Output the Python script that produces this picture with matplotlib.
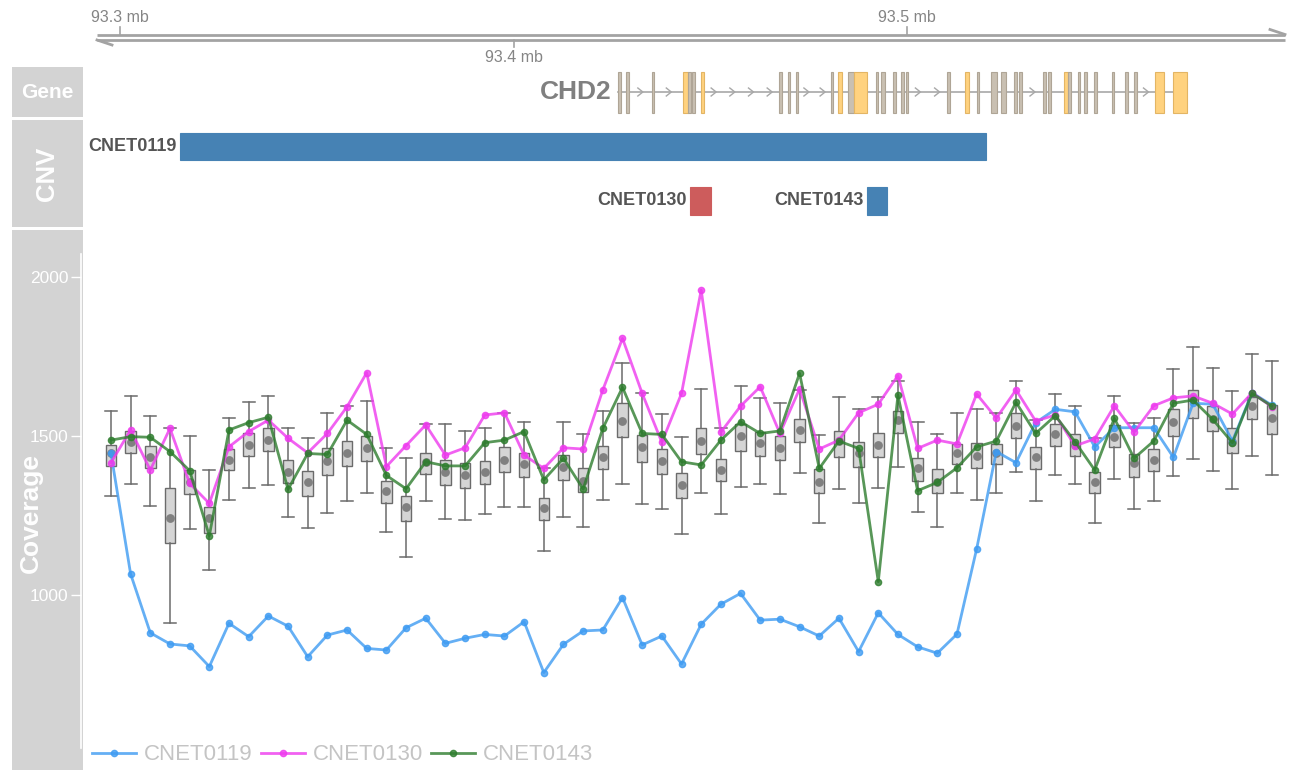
import numpy as np
import matplotlib
matplotlib.use("Agg")
import matplotlib.pyplot as plt
from matplotlib.patches import Rectangle

plt.rcParams['font.family'] = ['Liberation Sans', 'DejaVu Sans']

# ---------------- data ----------------
axis_ticks_mb = [93.3, 93.4, 93.5]
axis_tick_labels = ["93.3 mb", "93.4 mb", "93.5 mb"]

gene_name = "CHD2"
exon_start = [93.42663, 93.42851, 93.43512, 93.44315, 93.44427, 93.44544, 93.44765,
              93.46747, 93.46968, 93.47172, 93.48061, 93.48254, 93.48508, 93.48661,
              93.49204, 93.49339, 93.49652, 93.49860, 93.49975, 93.51009, 93.51474,
              93.51771, 93.52135, 93.52389, 93.52727, 93.52846, 93.53464, 93.53591,
              93.53990, 93.54099, 93.54338, 93.54506, 93.54760, 93.55202, 93.55540,
              93.55776, 93.56302, 93.56752]
exon_end = [93.42724, 93.42935, 93.43578, 93.44427, 93.44511, 93.44612, 93.44849,
            93.46816, 93.47034, 93.47238, 93.48127, 93.48341, 93.48661, 93.48976,
            93.49271, 93.49433, 93.49720, 93.49931, 93.50033, 93.51093, 93.51576,
            93.51830, 93.52280, 93.52508, 93.52795, 93.52915, 93.53525, 93.53652,
            93.54099, 93.54168, 93.54404, 93.54574, 93.54828, 93.55268, 93.55609,
            93.55845, 93.56539, 93.57123]
exon_kind = ["n", "n", "n", "c", "n", "n", "c",
             "n", "n", "n", "n", "c", "n", "c",
             "n", "n", "n", "n", "n", "n", "c",
             "n", "n", "n", "n", "n", "n", "n",
             "c", "n", "n", "n", "n", "n", "n",
             "n", "c", "c"]

cnv_names = ["CNET0119", "CNET0130", "CNET0143"]
cnv_start = [93.31525, 93.44485, 93.48983]
cnv_end = [93.52008, 93.45019, 93.49492]
cnv_row = [0, 1, 1]
cnv_colors = ["#4682B4", "#CD5C5C", "#4682B4"]

bin_mb = [round(93.2977 + 0.005 * i, 4) for i in range(60)]

box_q1 = [1406, 1446, 1398, 1163, 1317, 1196, 1393, 1438, 1454, 1351,
          1312, 1377, 1407, 1421, 1288, 1233, 1380, 1346, 1337, 1348,
          1388, 1372, 1236, 1362, 1323, 1395, 1498, 1417, 1381, 1306,
          1442, 1359, 1454, 1437, 1425, 1482, 1322, 1433, 1404, 1433,
          1510, 1358, 1320, 1411, 1400, 1411, 1493, 1395, 1469, 1437,
          1320, 1464, 1372, 1390, 1501, 1556, 1516, 1446, 1553, 1505]
box_med = [1446, 1482, 1435, 1241, 1354, 1241, 1425, 1472, 1487, 1388,
           1354, 1422, 1448, 1461, 1328, 1278, 1417, 1386, 1377, 1386,
           1425, 1412, 1275, 1404, 1358, 1433, 1548, 1464, 1421, 1346,
           1485, 1393, 1501, 1477, 1463, 1519, 1356, 1485, 1446, 1472,
           1550, 1400, 1356, 1446, 1437, 1446, 1532, 1433, 1505, 1472,
           1354, 1498, 1414, 1425, 1545, 1615, 1553, 1482, 1595, 1558]
box_q3 = [1472, 1516, 1469, 1337, 1393, 1278, 1458, 1508, 1524, 1425,
          1390, 1461, 1485, 1500, 1359, 1312, 1446, 1425, 1416, 1421,
          1466, 1446, 1304, 1440, 1398, 1469, 1603, 1503, 1458, 1385,
          1526, 1428, 1537, 1514, 1501, 1553, 1395, 1517, 1482, 1511,
          1580, 1432, 1395, 1475, 1477, 1475, 1571, 1466, 1537, 1505,
          1386, 1535, 1442, 1458, 1585, 1645, 1595, 1524, 1624, 1597]
whisk_lo = [1311, 1348, 1281, 913, 1208, 1079, 1299, 1337, 1346, 1244,
            1212, 1259, 1296, 1320, 1198, 1119, 1296, 1238, 1236, 1254,
            1276, 1278, 1138, 1246, 1215, 1299, 1348, 1285, 1269, 1191,
            1322, 1254, 1339, 1348, 1318, 1383, 1227, 1332, 1288, 1336,
            1404, 1260, 1215, 1320, 1299, 1320, 1386, 1297, 1377, 1348,
            1225, 1365, 1270, 1296, 1375, 1427, 1390, 1332, 1437, 1377]
whisk_hi = [1579, 1627, 1563, 1525, 1500, 1393, 1556, 1606, 1627, 1526,
            1493, 1573, 1595, 1610, 1463, 1430, 1537, 1538, 1517, 1524,
            1573, 1545, 1398, 1545, 1505, 1579, 1731, 1634, 1569, 1498,
            1648, 1526, 1658, 1618, 1603, 1645, 1503, 1622, 1585, 1622,
            1674, 1545, 1505, 1571, 1584, 1573, 1674, 1550, 1631, 1595,
            1495, 1626, 1542, 1558, 1711, 1779, 1715, 1642, 1757, 1736]

cov_0119 = [1446, 1066, 881, 846, 840, 775, 911, 869, 934, 902,
            806, 874, 890, 832, 827, 897, 927, 848, 864, 876,
            871, 916, 756, 845, 887, 890, 992, 843, 871, 783,
            908, 971, 1005, 921, 924, 900, 871, 927, 822, 944,
            876, 837, 817, 877, 1145, 1451, 1416, 1542, 1584, 1576,
            1466, 1526, 1526, 1526, 1433, 1603, 1600, 1484, 1636, 1597]
cov_0130 = [1416, 1519, 1393, 1524, 1351, 1288, 1466, 1514, 1550, 1493,
            1447, 1508, 1592, 1699, 1404, 1470, 1535, 1440, 1463, 1566,
            1573, 1440, 1398, 1463, 1459, 1645, 1807, 1634, 1480, 1634,
            1959, 1512, 1594, 1655, 1508, 1648, 1459, 1487, 1573, 1600,
            1690, 1461, 1487, 1475, 1632, 1556, 1645, 1547, 1566, 1469,
            1491, 1595, 1512, 1595, 1620, 1626, 1603, 1569, 1636, 1592]
cov_0143 = [1487, 1498, 1496, 1451, 1391, 1186, 1519, 1542, 1559, 1332,
            1445, 1442, 1550, 1505, 1376, 1334, 1419, 1406, 1406, 1479,
            1487, 1514, 1362, 1430, 1333, 1524, 1653, 1508, 1505, 1419,
            1409, 1487, 1545, 1508, 1516, 1697, 1398, 1484, 1461, 1042,
            1629, 1328, 1354, 1400, 1466, 1484, 1606, 1508, 1564, 1482,
            1393, 1556, 1430, 1484, 1603, 1613, 1552, 1479, 1634, 1594]
sample_names = ["CNET0119", "CNET0130", "CNET0143"]
yticks = [1000, 1500, 2000]

# ---------------- layout ----------------
W, H = 1290, 770
fig = plt.figure(figsize=(W / 100, H / 100), dpi=100)
PX_PER_MB = 3935.0


def px2mb(px):
    return 93.3 + (px - 120) / PX_PER_MB


def add_ax(x0, y0, x1, y1, **kw):
    ax = fig.add_axes([x0 / W, 1 - y1 / H, (x1 - x0) / W, (y1 - y0) / H], **kw)
    return ax


def clean(ax):
    for s in ax.spines.values():
        s.set_visible(False)
    ax.set_xticks([])
    ax.set_yticks([])


STRIP = "#D3D3D3"

# ---------- strips ----------
for (y0, y1, label, rot, fs, cy) in [(67, 117, "Gene", 0, 15, None),
                                     (120, 227, "CNV", 90, 18.5, None),
                                     (230, 770, "Coverage", 90, 19, 513)]:
    sax = add_ax(12, y0, 83, y1)
    sax.set_facecolor(STRIP)
    clean(sax)
    if label == "Coverage":
        fig.text(31 / W, 1 - cy / H, label, rotation=90, ha="center", va="center",
                 color="white", fontsize=fs, fontweight="bold")
    else:
        fig.text(47 / W, 1 - (y0 + y1) / 2 / H, label, rotation=rot, ha="center",
                 va="center", color="white", fontsize=fs, fontweight="bold")

# ---------- genome axis ----------
axg = add_ax(83, 0, 1290, 64)
axg.set_xlim(px2mb(83), px2mb(1290))
axg.set_ylim(64, 0)
clean(axg)
axg.patch.set_alpha(0)
ax_col = "#A3A3A3"
x_l, x_r = px2mb(97), px2mb(1285)
barb = 15 / PX_PER_MB
axg.plot([x_l, x_r], [34.5, 34.5], color=ax_col, lw=2, solid_capstyle="butt")
axg.plot([x_l, x_r], [40, 40], color=ax_col, lw=2, solid_capstyle="butt")
axg.plot([x_l, x_l + barb], [40, 45], color=ax_col, lw=2)
axg.plot([x_r, x_r - barb], [34.5, 29.5], color=ax_col, lw=2)
for i, (t, lab) in enumerate(zip(axis_ticks_mb, axis_tick_labels)):
    if i % 2 == 0:
        axg.plot([t, t], [34.5, 27], color=ax_col, lw=1.2)
        axg.text(t, 17, lab, ha="center", va="center", fontsize=11.5, color="#858585")
    else:
        axg.plot([t, t], [40, 47], color=ax_col, lw=1.2)
        axg.text(t, 57, lab, ha="center", va="center", fontsize=11.5, color="#858585")

# ---------- gene track ----------
axe = add_ax(83, 67, 1290, 117)
axe.set_xlim(px2mb(83), px2mb(1290))
axe.set_ylim(0, 1)
clean(axe)
axe.patch.set_alpha(0)
gstart, gend = min(exon_start), max(exon_end)
axe.plot([gstart, gend], [0.5, 0.5], color="#A8A8A8", lw=1.2, zorder=1)
# chevrons in introns
order = np.argsort(exon_start)
segs = []
cur_s, cur_e = exon_start[order[0]], exon_end[order[0]]
for k in order[1:]:
    if exon_start[k] <= cur_e + 1e-6:
        cur_e = max(cur_e, exon_end[k])
    else:
        segs.append((cur_s, cur_e))
        cur_s, cur_e = exon_start[k], exon_end[k]
segs.append((cur_s, cur_e))
cw = 5 / PX_PER_MB
for (a, b), (c, d) in zip(segs[:-1], segs[1:]):
    gap_px = (c - b) * PX_PER_MB
    n = int(gap_px // 15)
    for j in range(n):
        xc = b + (j + 0.5) * (c - b) / n
        axe.plot([xc - cw / 2, xc + cw / 2, xc - cw / 2], [0.58, 0.5, 0.42],
                 color="#A8A8A8", lw=1.0, zorder=1)
for s, e, kd in zip(exon_start, exon_end, exon_kind):
    fc = "#FFD27F" if kd == "c" else "#C9C0B2"
    ec = "#E3B564" if kd == "c" else "#AFA596"
    axe.add_patch(Rectangle((s, 0.08), e - s, 0.82, facecolor=fc, edgecolor=ec,
                            lw=0.8, zorder=2))
axe.text(gstart - 7 / PX_PER_MB, 0.5, gene_name, ha="right", va="center",
         fontsize=19, fontweight="bold", color="#808080")

# ---------- CNV track ----------
axc = add_ax(83, 120, 1290, 227)
axc.set_xlim(px2mb(83), px2mb(1290))
axc.set_ylim(1.477, -0.486)
clean(axc)
axc.patch.set_alpha(0)
for name, s, e, r, c in zip(cnv_names, cnv_start, cnv_end, cnv_row, cnv_colors):
    axc.add_patch(Rectangle((s, r - 0.25), e - s, 0.5, facecolor=c, edgecolor=c, lw=0.8))
    axc.text(s - 3 / PX_PER_MB, r, name, ha="right", va="center", fontsize=13,
             fontweight="bold", color="#555555")

# ---------- coverage track ----------
axv = add_ax(81, 230, 1290, 770)
axv.set_xlim(px2mb(81), px2mb(1290))
axv.set_ylim(449.7, 2147.8)
axv.patch.set_alpha(0)
for k in ["top", "right", "bottom"]:
    axv.spines[k].set_visible(False)
axv.spines["left"].set_color("white")
axv.spines["left"].set_linewidth(1.2)
axv.spines["left"].set_bounds(520, 2072)
axv.set_xticks([])
axv.set_yticks(yticks)
axv.set_yticklabels([str(v) for v in yticks])
axv.tick_params(axis="y", colors="white", length=7, width=1, labelsize=12.5, pad=2)

bw = 10.5 / PX_PER_MB
stats = [dict(q1=a, med=b, q3=c, whislo=d, whishi=e, fliers=[])
         for a, b, c, d, e in zip(box_q1, box_med, box_q3, whisk_lo, whisk_hi)]
bcol = "#6B6B6B"
axv.bxp(stats, positions=bin_mb, widths=bw, capwidths=bw * 1.15, showfliers=False,
        patch_artist=True, manage_ticks=False,
        boxprops=dict(facecolor="#D5D5D5", edgecolor=bcol, linewidth=1.0),
        whiskerprops=dict(color=bcol, linewidth=1.1),
        capprops=dict(color=bcol, linewidth=1.1),
        medianprops=dict(visible=False))
axv.scatter(bin_mb, box_med, s=40, color="#808080", zorder=3, linewidths=0)

line_cols = ["#3E9BF2", "#EE3AEE", "#2E7D2E"]
for vals, col, name in zip([cov_0119, cov_0130, cov_0143], line_cols, sample_names):
    axv.plot(bin_mb, vals, color=col, lw=2.0, alpha=0.8, marker="o", markersize=4.5,
             markerfacecolor=col, markeredgecolor=col, label=name, zorder=4)

leg = axv.legend(loc="center left", bbox_to_anchor=(92 / W, 15 / H),
                 bbox_transform=fig.transFigure, ncol=3, frameon=False,
                 fontsize=16, handlelength=2.0, handletextpad=0.35,
                 columnspacing=0.35, borderpad=0, borderaxespad=0,
                 labelcolor="#C4C4C4")

fig.savefig("out.png", dpi=100)
